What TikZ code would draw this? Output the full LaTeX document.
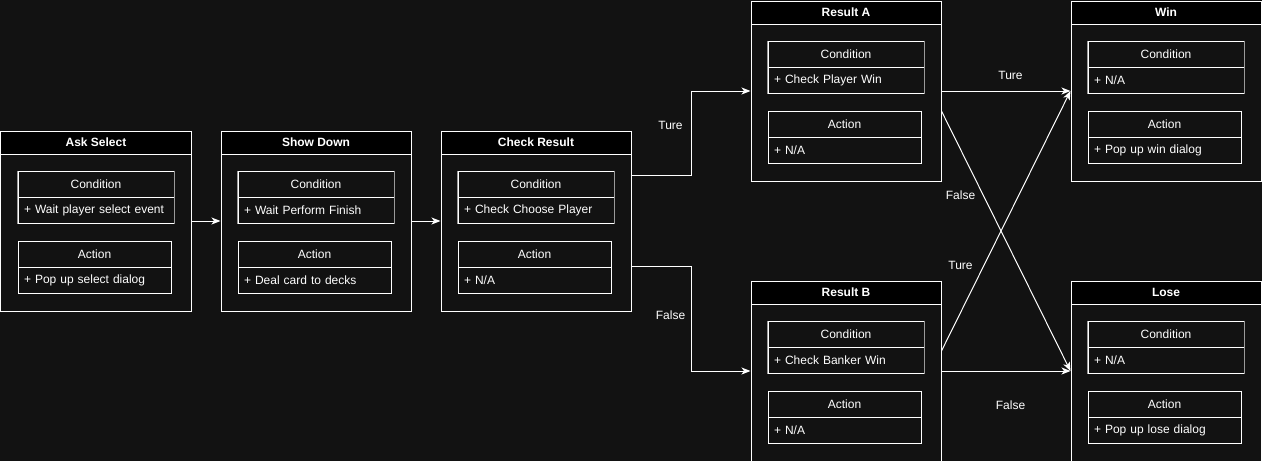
\documentclass[tikz,border=0pt]{standalone}
\usepackage{fontspec}
\setmainfont{Liberation Sans}
\usetikzlibrary{arrows.meta,calc}
\definecolor{bg}{HTML}{121212}
\definecolor{edgegray}{HTML}{9A9A9A}
\tikzset{
  fnt/.style={font=\fontsize{12}{14}\selectfont},
  outer/.style={draw=white, line width=1pt, minimum width=190pt, minimum height=180pt, inner sep=0pt, anchor=north west},
  hdr/.style={draw=white, fill=black, line width=1pt, minimum width=190pt, minimum height=23pt, inner sep=0pt, anchor=north west, text=white, font=\bfseries\fontsize{12}{14}\selectfont},
  cellhead/.style={draw=white, line width=1pt, minimum height=26pt, inner sep=0pt, anchor=north west, text=white, fnt},
  cellbody/.style={draw=white, line width=1pt, minimum height=26pt, inner ysep=0pt, inner xsep=6pt, anchor=north west, text=white, fnt, align=left, text width=#1},
  lbl/.style={text=white, fnt, inner sep=1pt},
  conn/.style={draw=white, line width=1pt, -{Stealth[length=9pt,width=7pt,inset=2.5pt]}},
}
\newcommand\stbox[6]{%
  \node[outer] (#1) at (#2,#3) {};
  \node[hdr] (#1-h) at (#2,#3) {#4};
  \node[cellhead, minimum width=156pt] (#1-ch) at (#2+17,#3+40) {Condition};
  \node[cellbody=144pt] (#1-cb) at (#2+17,#3+66) {#5};
  \draw[edgegray, line width=1pt] (#1-ch.north west) -- (#1-cb.south west);
  \draw[edgegray, line width=1pt] (#1-ch.north east) -- (#1-cb.south east);
  \node[cellhead, minimum width=153pt] (#1-ah) at (#2+17,#3+110) {Action};
  \node[cellbody=141pt] (#1-ab) at (#2+17,#3+136) {#6};
}
\begin{document}
\begin{tikzpicture}[x=1pt,y=-1pt]
  \fill[bg] (-0.5,-0.5) rectangle (1261.5,460.5);
  \useasboundingbox (-0.5,-0.5) rectangle (1261.5,460.5);

  \stbox{ask}{0}{130}{Ask Select}{+ Wait player select event}{+ Pop up select dialog}
  \stbox{show}{220}{130}{Show Down}{+ Wait Perform Finish}{+ Deal card to decks}
  \stbox{check}{440}{130}{Check Result}{+ Check Choose Player}{+ N/A}
  \stbox{ra}{750}{0}{Result A}{+ Check Player Win}{+ N/A}
  \stbox{rb}{750}{280}{Result B}{+ Check Banker Win}{+ N/A}
  \stbox{win}{1070}{0}{Win}{+ N/A}{+ Pop up win dialog}
  \stbox{lose}{1070}{280}{Lose}{+ N/A}{+ Pop up lose dialog}

  \coordinate (c1) at ($(check.north east)!0.25!(check.south east)$);
  \coordinate (c2) at ($(check.north east)!0.75!(check.south east)$);
  \coordinate (a2) at ($(ra.north east)!0.611!(ra.south east)$);
  \coordinate (b2) at ($(rb.north east)!0.389!(rb.south east)$);

  \draw[conn] (ask.east) -- (show.west);
  \draw[conn] (show.east) -- (check.west);
  \draw[conn] (c1) -- ++(60,0) |- (ra.west);
  \draw[conn] (c2) -- ++(60,0) |- (rb.west);
  \draw[conn] (ra.east) -- (win.west);
  \draw[conn] (a2) -- (lose.west);
  \draw[conn] (b2) -- (win.west);
  \draw[conn] (rb.east) -- (lose.west);

  \node[lbl] (l1) at (670,125) {Ture};
  \node[lbl] (l2) at (670,315) {False};
  \node[lbl] (l3) at (1010,75) {Ture};
  \node[lbl] (l4) at (960,195) {False};
  \node[lbl] (l5) at (960,265) {Ture};
  \node[lbl] (l6) at (1010,405) {False};
\end{tikzpicture}
\end{document}
